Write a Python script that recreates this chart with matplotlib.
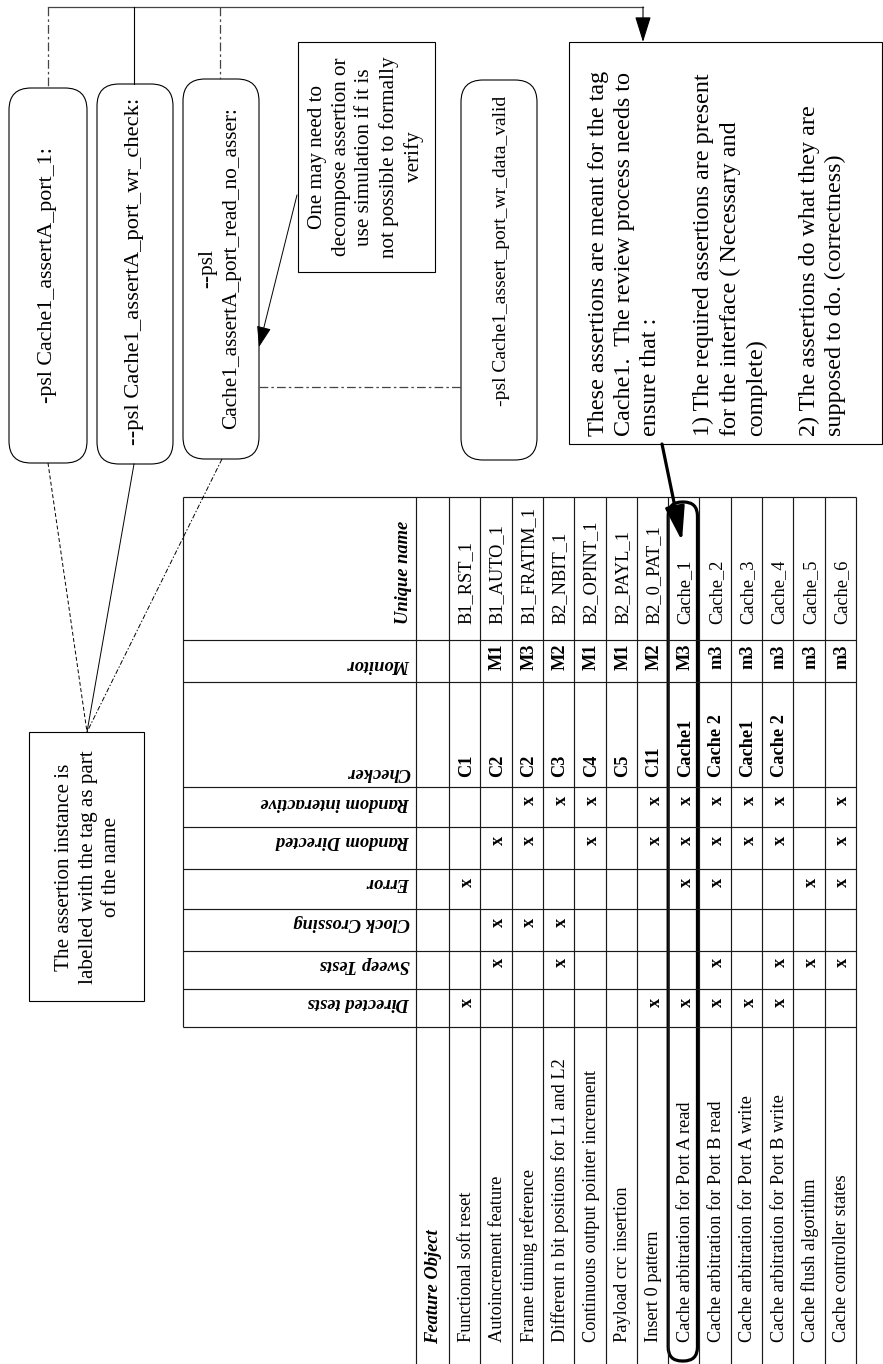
import numpy as np
import matplotlib
matplotlib.use('Agg')
import matplotlib.pyplot as plt
from matplotlib.patches import FancyBboxPatch, Rectangle

plt.rcParams['font.family'] = ['Liberation Serif', 'DejaVu Serif']

# ---------------- data ----------------
headers = ['Unique name', 'Monitor', 'Checker', 'Random interactive',
           'Random Directed', 'Error', 'Clock Crossing', 'Sweep Tests',
           'Directed tests']
feature_header = 'Feature Object'
features = ['Functional soft reset', 'Autoincrement feature',
            'Frame timing reference', 'Different n bit positions for L1 and L2',
            'Continuous output pointer increment', 'Payload crc insertion',
            'Insert 0 pattern', 'Cache arbitration for Port A read',
            'Cache arbitration for Port B read', 'Cache arbitration for Port A write',
            'Cache arbitration for Port B write', 'Cache flush algorithm',
            'Cache controller states']
unique_names = ['B1_RST_1', 'B1_AUTO_1', 'B1_FRATIM_1', 'B2_NBIT_1',
                'B2_OPINT_1', 'B2_PAYL_1', 'B2_0_PAT_1', 'Cache_1', 'Cache_2',
                'Cache_3', 'Cache_4', 'Cache_5', 'Cache_6']
monitors = ['', 'M1', 'M3', 'M2', 'M1', 'M1', 'M2', 'M3', 'm3', 'm3', 'm3', 'm3', 'm3']
checkers = ['C1', 'C2', 'C2', 'C3', 'C4', 'C5', 'C11', 'Cache1', 'Cache 2',
            'Cache1', 'Cache 2', '', '']
random_interactive = [0, 0, 1, 1, 1, 0, 1, 1, 1, 1, 1, 0, 1]
random_directed = [0, 1, 1, 0, 1, 0, 1, 1, 1, 1, 1, 0, 1]
error_tests = [1, 0, 0, 0, 0, 0, 0, 1, 1, 0, 0, 1, 1]
clock_crossing = [0, 1, 1, 1, 0, 0, 0, 0, 0, 0, 0, 0, 0]
sweep_tests = [0, 1, 0, 1, 0, 0, 0, 0, 1, 0, 1, 1, 1]
directed_tests = [1, 0, 0, 0, 0, 0, 1, 1, 1, 1, 1, 0, 0]

psl_boxes = ['-psl Cache1_assertA_port_1:',
             '--psl Cache1_assertA_port_wr_check:',
             '--psl\nCache1_assertA_port_read_no_asser:',
             '-psl Cache1_assert_port_wr_data_valid']
note_decompose = ('One may need to\ndecompose assertion or\nuse simulation if it is\n'
                  'not possible to formally\nverify')
note_tag = 'The assertion instance is\nlabelled with the tag as part\nof the name'
note_review = ('These assertions are meant for the tag\n'
               'Cache1.  The review process needs to\n'
               'ensure that :\n\n'
               '1) The required assertions are present\n'
               'for the interface ( Necessary and\n'
               'complete)\n\n'
               '2) The assertions do what they are\n'
               'supposed to do. (correctness)')

# ---------------- layout ----------------
W, H = 883, 1364
fig = plt.figure(figsize=(W / 100, H / 100), dpi=100)
ax = fig.add_axes([0, 0, 1, 1])
ax.set_xlim(0, W)
ax.set_ylim(H, 0)
ax.axis('off')

FS = 13.2
LS = 1.33
row_edges = np.concatenate([[416.0], np.linspace(449, 856, len(features) + 1)])
col_edges = [497, 640, 682, 787, 827, 869, 909, 951, 989, 1027]
x_left = 183
grid_kw = dict(color='#1a1a1a', lw=0.85, solid_capstyle='butt')

for ce in col_edges:
    ax.plot([x_left, row_edges[-1]], [ce, ce], **grid_kw)
ax.plot([x_left, x_left], [col_edges[0], col_edges[-1]], **grid_kw)
for re in row_edges:
    ax.plot([re, re], [col_edges[0], H], **grid_kw)

# headers
hdr_kw = dict(fontsize=13.3, fontweight='bold', fontstyle='italic')
ax.text(404, 624, headers[0], rotation=90, ha='center', va='bottom', **hdr_kw)
hdr_y = [665, 772, 802, 841, 883, 923, 964, 1003]
for name, yc in zip(headers[1:], hdr_y):
    ax.text(410, yc, name, rotation=180, ha='right', va='center', **hdr_kw)
ax.text((row_edges[0] + row_edges[1]) / 2 + 1, 1344, feature_header,
        rotation=90, ha='center', va='bottom', **hdr_kw)

# body
mark_cols = [random_interactive, random_directed, error_tests,
             clock_crossing, sweep_tests, directed_tests]
mark_y = [800, 840, 882, 922, 962, 1002]
for i in range(len(features)):
    xc = (row_edges[i + 1] + row_edges[i + 2]) / 2 + 1.5
    ax.text(xc, 624, unique_names[i], rotation=90, ha='center', va='bottom', fontsize=FS)
    if monitors[i]:
        ax.text(xc, 657, monitors[i], rotation=90, ha='center', va='center',
                fontsize=FS, fontweight='bold')
    if checkers[i]:
        ax.text(xc, 777, checkers[i], rotation=90, ha='center', va='bottom',
                fontsize=FS, fontweight='bold')
    for col, ym in zip(mark_cols, mark_y):
        if col[i]:
            ax.text(xc + 1, ym, 'x', rotation=90, ha='center', va='center',
                    fontsize=FS, fontweight='bold')
    ax.text(xc, 1342, features[i], rotation=90, ha='center', va='bottom', fontsize=FS)

# highlight of the Cache_1 row
r0, r1 = row_edges[8], row_edges[9]
ax.add_patch(FancyBboxPatch((r0, 502), r1 - r0 - 2, 859,
                            boxstyle='round,pad=0,rounding_size=14',
                            fc='none', ec='black', lw=2.3))

# ---------------- annotation boxes ----------------
rb = [(9, 88, 87, 463), (97, 84, 173, 464), (183, 79, 259, 459), (461, 80, 537, 460)]
rb_text = [(48, 275, 15.8), (135, 271, 16.2), (220, 268, 15.3), (502, 251, 14.0)]
for (x0, y0, x1, y1), (tx, ty, fs), s in zip(rb, rb_text, psl_boxes):
    ax.add_patch(FancyBboxPatch((x0, y0), x1 - x0, y1 - y0,
                                boxstyle='round,pad=0,rounding_size=22',
                                fc='white', ec='black', lw=0.8))
    ax.text(tx, ty, s, rotation=90, ha='center', va='center', fontsize=fs,
            multialignment='center', linespacing=LS)

ax.add_patch(Rectangle((298, 42), 137, 230, fc='white', ec='black', lw=0.8))
ax.text(366, 157, note_decompose, rotation=90, ha='center', va='center',
        fontsize=15.2, multialignment='center', linespacing=LS)

ax.add_patch(Rectangle((29, 732), 115, 269, fc='white', ec='black', lw=0.8))
ax.text(88, 867, note_tag, rotation=90, ha='center', va='center',
        fontsize=15.2, multialignment='center', linespacing=LS)

ax.add_patch(Rectangle((569, 42), 313, 402, fc='white', ec='black', lw=0.8))
ax.text(717, 436, note_review, rotation=90, ha='center', va='bottom',
        fontsize=17.4, multialignment='left', linespacing=LS)

# ---------------- connectors ----------------
c = '#444444'
dashdot = (0, (7, 2.5, 2, 2.5))
ax.plot([48, 643], [7, 7], color=c, lw=0.9)
ax.plot([48, 48], [7, 88], color=c, lw=0.9, linestyle=dashdot)
ax.plot([134, 134], [7, 84], color='black', lw=0.8)
ax.plot([220, 220], [7, 79], color=c, lw=0.9, linestyle=dashdot)
ax.annotate('', xy=(643, 42), xytext=(643, 7),
            arrowprops=dict(arrowstyle='-|>,head_length=16,head_width=5',
                            mutation_scale=1, color='black', lw=0.8,
                            shrinkA=0, shrinkB=0))
ax.plot([259, 461], [387, 387], color=c, lw=0.9, linestyle=dashdot)
ax.plot([48, 87], [463, 732], color='black', lw=0.7, linestyle=(0, (4, 2.5)))
ax.plot([134, 87], [464, 732], color='black', lw=0.7)
ax.plot([222, 87], [459, 732], color='black', lw=0.7, linestyle=(0, (5, 2, 1.5, 2)))
ax.annotate('', xy=(259, 347), xytext=(297, 195),
            arrowprops=dict(arrowstyle='-|>,head_length=13,head_width=4.5',
                            mutation_scale=1, color='black', lw=0.7,
                            shrinkA=0, shrinkB=0))
ax.annotate('', xy=(682, 541), xytext=(662, 444),
            arrowprops=dict(arrowstyle='-|>,head_length=21,head_width=6',
                            mutation_scale=1, color='black', lw=2.3,
                            shrinkA=0, shrinkB=0))

fig.savefig('out.png', dpi=100)
